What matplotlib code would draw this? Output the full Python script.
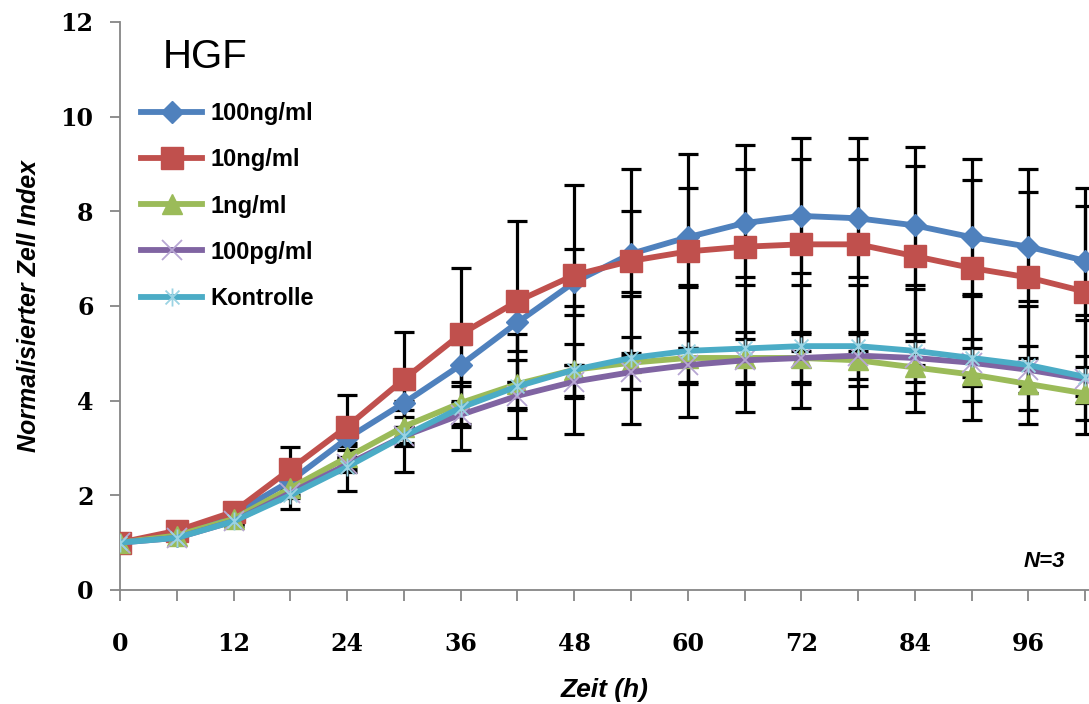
import matplotlib
matplotlib.use("Agg")
import matplotlib.pyplot as plt
from matplotlib.path import Path
import numpy as np

# ---------- data ----------
zeit = [0, 6, 12, 18, 24, 30, 36, 42, 48, 54, 60, 66, 72, 78, 84, 90, 96, 102]

ng100 = [1.0, 1.15, 1.6, 2.3, 3.2, 3.95, 4.75, 5.65, 6.5, 7.1, 7.45, 7.75, 7.9, 7.85, 7.7, 7.45, 7.25, 6.95]
ng100_err = [0.02, 0.05, 0.1, 0.2, 0.25, 0.3, 0.45, 0.6, 0.7, 0.9, 1.05, 1.15, 1.2, 1.25, 1.25, 1.2, 1.15, 1.15]

ng10 = [1.0, 1.25, 1.65, 2.55, 3.45, 4.45, 5.4, 6.1, 6.65, 6.95, 7.15, 7.25, 7.3, 7.3, 7.05, 6.8, 6.6, 6.3]
ng10_err = [0.02, 0.05, 0.15, 0.47, 0.67, 1.0, 1.4, 1.7, 1.9, 1.95, 2.05, 2.15, 2.25, 2.25, 2.3, 2.3, 2.3, 2.2]

ng1 = [1.0, 1.15, 1.5, 2.15, 2.8, 3.45, 3.95, 4.35, 4.65, 4.8, 4.9, 4.9, 4.9, 4.85, 4.7, 4.55, 4.35, 4.15]
ng1_err = [0.02, 0.04, 0.08, 0.15, 0.25, 0.35, 0.45, 0.5, 0.55, 0.55, 0.55, 0.55, 0.55, 0.55, 0.55, 0.55, 0.55, 0.55]

pg100 = [1.0, 1.1, 1.45, 2.05, 2.65, 3.25, 3.7, 4.1, 4.4, 4.6, 4.75, 4.85, 4.9, 4.95, 4.9, 4.8, 4.65, 4.45]
pg100_err = [0.02, 0.03, 0.06, 0.1, 0.15, 0.2, 0.25, 0.3, 0.35, 0.35, 0.35, 0.45, 0.5, 0.5, 0.5, 0.5, 0.5, 0.5]

kontrolle = [1.0, 1.1, 1.45, 2.0, 2.6, 3.25, 3.85, 4.3, 4.65, 4.9, 5.05, 5.1, 5.15, 5.15, 5.05, 4.9, 4.75, 4.5]
kontrolle_err = [0.02, 0.04, 0.1, 0.3, 0.5, 0.75, 0.9, 1.1, 1.35, 1.4, 1.4, 1.35, 1.3, 1.3, 1.3, 1.3, 1.25, 1.2]

labels = ["100ng/ml", "10ng/ml", "1ng/ml", "100pg/ml", "Kontrolle"]

# asterisk marker like Excel (x plus vertical bar)
star = Path([(-1, -1), (1, 1), (-1, 1), (1, -1), (0, -1.3), (0, 1.3)],
            [Path.MOVETO, Path.LINETO, Path.MOVETO, Path.LINETO, Path.MOVETO, Path.LINETO])

series = [
    (ng100, ng100_err, "#4F81BD", dict(marker="D", ms=11, mfc="#4F81BD", mec="#4F81BD")),
    (ng10, ng10_err, "#C0504D", dict(marker="s", ms=16, mfc="#C0504D", mec="#C0504D")),
    (ng1, ng1_err, "#9BBB59", dict(marker="^", ms=14, mfc="#9BBB59", mec="#9BBB59")),
    (pg100, pg100_err, "#8064A2", dict(marker="x", ms=15, mec="#B7A6D3", mew=1.3)),
    (kontrolle, kontrolle_err, "#4BACC6", dict(marker=star, ms=13, mec="#9BD3E3", mew=1.3)),
]

fig = plt.figure(figsize=(10.89, 7.04), dpi=100)
ax = fig.add_axes([0.1102, 0.162, 0.8898, 0.807])

for y, err, col, mk in series:
    ax.errorbar(zeit, y, yerr=err, fmt="none", ecolor="black", elinewidth=2.3,
                capsize=7, capthick=2.3, zorder=2)
for i, (y, err, col, mk) in enumerate(series):
    ax.plot(zeit, y, color=col, lw=4.2, label=labels[i], zorder=3 + i, **mk)

ax.set_xlim(0, 102.4)
ax.set_ylim(0, 12)
ax.set_xticks(np.arange(0, 103, 6))
ax.set_xticklabels([str(t) if t % 12 == 0 else "" for t in range(0, 103, 6)])
ax.set_yticks(np.arange(0, 13, 2))

for s in ["top", "right"]:
    ax.spines[s].set_visible(False)
for s in ["left", "bottom"]:
    ax.spines[s].set_color("#868686")
    ax.spines[s].set_linewidth(1.3)
ax.tick_params(axis="x", direction="out", length=8, width=1.3, color="#868686", pad=22)
ax.tick_params(axis="y", direction="out", length=7, width=1.3, color="#868686", pad=12)
for lab in ax.get_xticklabels() + ax.get_yticklabels():
    lab.set_fontfamily("DejaVu Serif")
    lab.set_fontweight("bold")
    lab.set_fontsize(17)

ax.set_xlabel("Zeit (h)", fontsize=19, fontweight="bold", style="italic",
              family="Liberation Sans", labelpad=16)
ax.set_ylabel("Normalisierter Zell Index", fontsize=18, fontweight="bold", style="italic",
              family="Liberation Sans", labelpad=14)

fig.text(163 / 1089, 1 - 57 / 704, "HGF", fontsize=29, family="Liberation Sans",
         va="center", ha="left")

ax.legend(loc="upper left", bbox_to_anchor=(0.012, 0.875), frameon=False,
          prop={"family": "Liberation Sans", "weight": "bold", "size": 17},
          handlelength=2.6, labelspacing=0.98, handletextpad=0.35, borderaxespad=0)

ax.text(0.975, 0.05, "N=3", transform=ax.transAxes, ha="right", va="center",
        fontsize=16, fontweight="bold", style="italic", family="Liberation Sans")

fig.savefig("out.png", dpi=100)
